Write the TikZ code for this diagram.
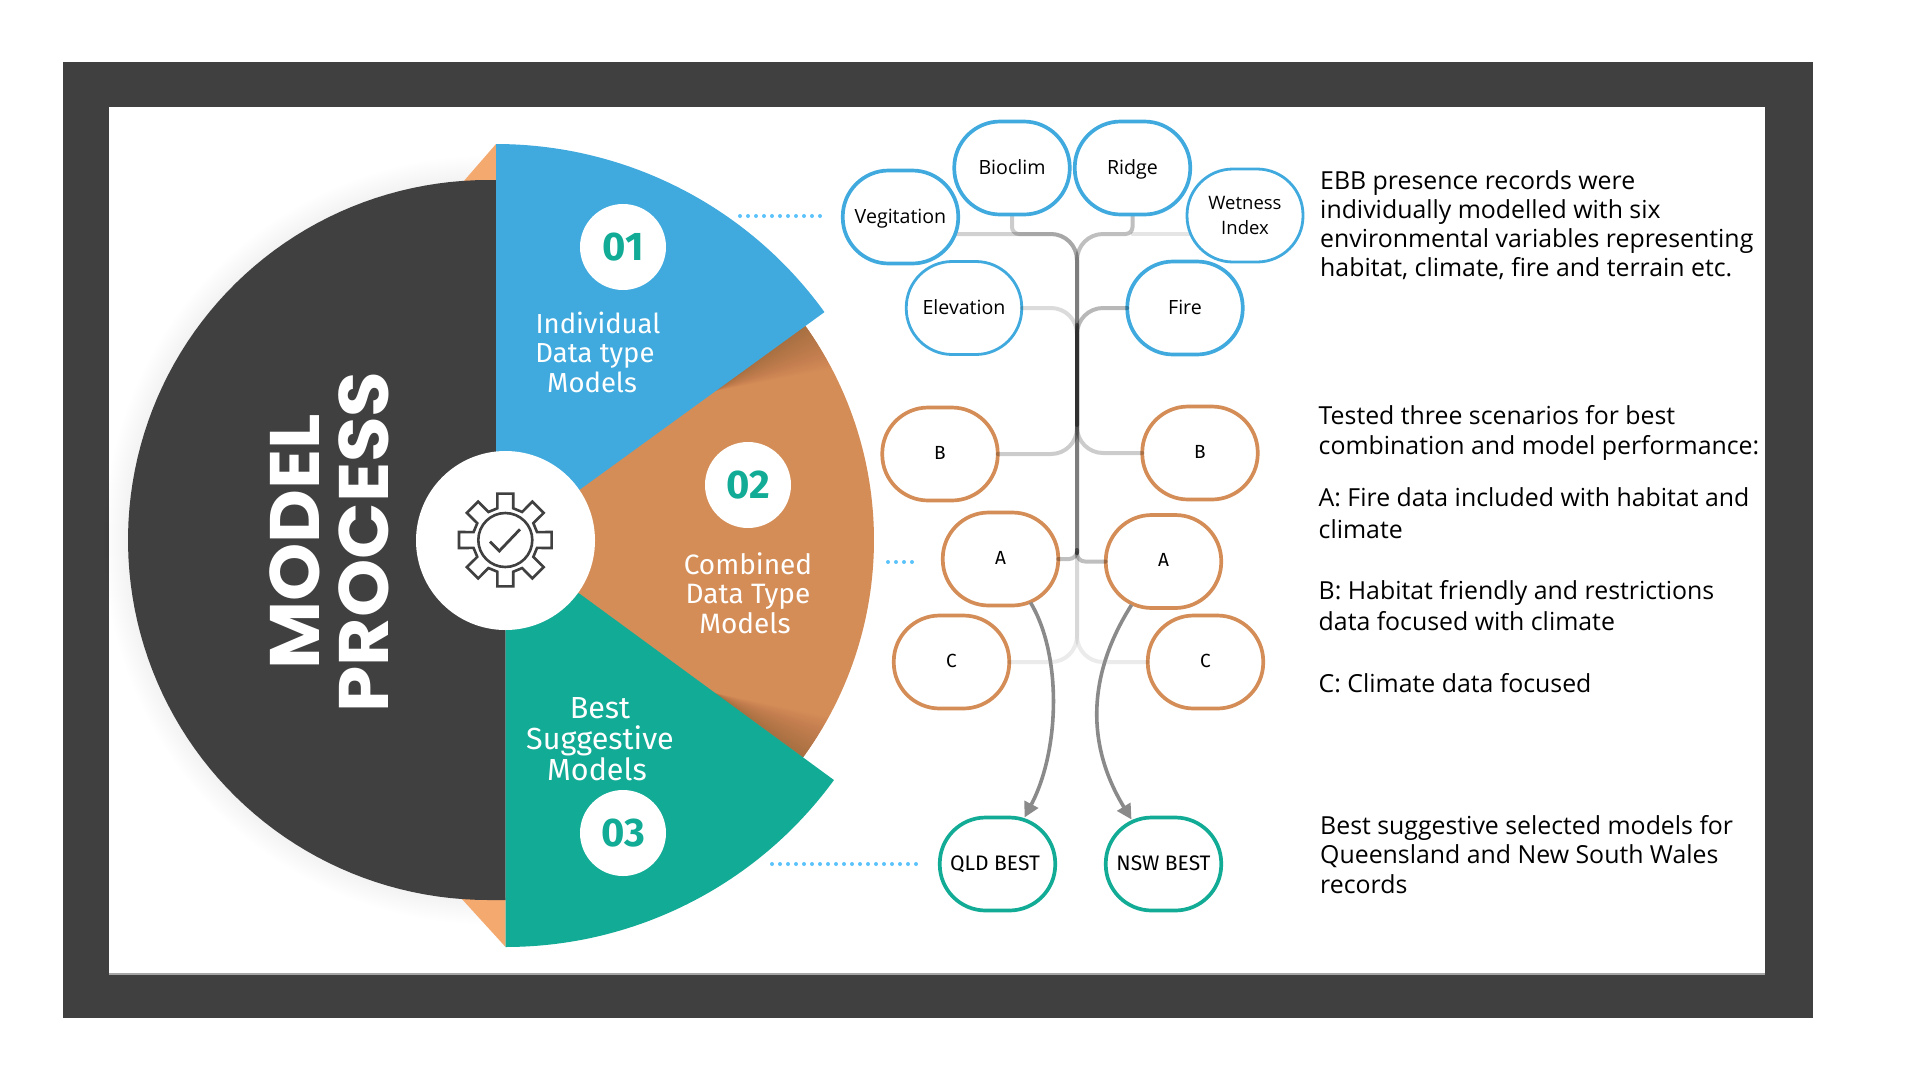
\documentclass[tikz,border=0pt]{standalone}
\usepackage{fontspec}
\usetikzlibrary{calc,arrows.meta}
\setmainfont{Open Sans}
\newfontfamily\plexlike{Fira Sans}
\newfontfamily\headfont[FakeStretch=1.06]{Poppins}
\definecolor{darkfr}{HTML}{404040}
\definecolor{bluew}{HTML}{40AADE}
\definecolor{orangew}{HTML}{D48D57}
\definecolor{tealw}{HTML}{12AB96}
\definecolor{tipc}{HTML}{F4A96F}
\definecolor{dotc}{HTML}{5CC3FA}
\definecolor{arrowc}{HTML}{8A8A8A}
\tikzset{
 pill/.style={draw,fill=white,line width=3.7pt,rounded corners=46pt,minimum width=115.5pt,minimum height=93pt,inner sep=0pt,outer sep=0pt,align=center,text=black,font=\fontsize{19.6}{25}\selectfont},
 oneline/.style={text height=14pt,text depth=4pt},
 onelinelow/.style={text height=15pt,text depth=2pt},
 bluep/.style={pill,draw=bluew},
 orangep/.style={pill,oneline,draw=orangew,font=\plexlike\fontsize{19}{25}\selectfont},
 tealp/.style={pill,onelinelow,draw=tealw,font=\plexlike\fontsize{21}{25}\selectfont},
 numc/.style={circle,fill=white,minimum size=86pt,inner sep=0pt,text=tealw,font=\plexlike\bfseries\fontsize{40}{42}\selectfont},
 wlabel/.style={align=center,text=white,inner sep=0pt,font=\plexlike\fontsize{27.5}{29.5}\selectfont},
 body/.style={anchor=west,align=left,inner sep=0pt,text=black,font=\fontsize{24.85}{29.2}\selectfont},
 link/.style={line width=4pt,black,line cap=round},
 dotline/.style={dotc,line width=4pt,line cap=round,dash pattern=on 0pt off 8pt},
 arrowline/.style={arrowc,line width=3.6pt,-{Triangle[length=15pt,width=15pt]}},
}
\begin{document}
\begin{tikzpicture}[x=1pt,y=-1pt]
\useasboundingbox (0,0) rectangle (1920,1080);
\fill[white] (0,0) rectangle (1920,1080);
% frame
\fill[darkfr] (62.5,62) rectangle (1812.5,1018);
\fill[white] (109,106.5) rectangle (1764.5,973);
\fill[gray!70] (109,973) rectangle (1764.5,975);
% soft shadow of the dark half
\foreach \d in {2,4,...,24}{
 \fill[black,opacity=.005] (496,540) -- plot[domain=90:270,samples=60] ({488+(360+\d)*cos(\x)},{540+(360+\d)*sin(\x)}) -- cycle;
}
% orange wedge with shadow
\fill[orangew] (505,540) -- plot[domain=-37:37,samples=60] ({505+369*cos(\x)},{540+369*sin(\x)}) -- cycle;
\begin{scope}
 \clip (505,540) -- plot[domain=-37:37,samples=60] ({505+369*cos(\x)},{540+369*sin(\x)}) -- cycle;
 \foreach \w in {3,6,...,66}{
  \fill[black,opacity=.0065] (715,391) -- (830,308) -- ($(830,308)+(.59*\w,.81*\w)$) -- cycle;
  \fill[black,opacity=.0065] (715,693) -- (834,780) -- ($(834,780)+(.59*\w,-.81*\w)$) -- cycle;
 }
\end{scope}
% small tips
\fill[tipc] (463,182) -- (496,144) -- (496,182) -- cycle;
\fill[tipc] (461,898) -- (505.6,898) -- (505.6,947) -- cycle;
% dark half
\fill[darkfr] (505.6,900) -- plot[domain=90:270,samples=90] ({488+360*cos(\x)},{540+360*sin(\x)}) -- (496,180) -- (496,540) -- (505.6,540) -- cycle;
% blue wedge
\fill[bluew] (496,144) -- plot[domain=-90:-35.8,samples=60] ({496+405*cos(\x)},{549+405*sin(\x)}) -- (582,488) -- (505,540) -- (496,540) -- cycle;
% teal wedge
\fill[tealw] (505.6,947) -- plot[domain=90:36.1,samples=60] ({505.6+406.4*cos(\x)},{540.6+406.4*sin(\x)}) -- (580,594) -- (505.6,560) -- cycle;
% hub
\node[circle,fill=white,minimum size=179pt,inner sep=0pt] (hub) at (505.5,540.5) {};
% gear
\begin{scope}[shift={(505.3,540)},darkfr,line width=2.6pt,line join=miter]
 \draw (-14:32.7) \foreach \a in {0,45,...,315}{
   -- (\a-14:32.7) -- (\a-9.8:47) -- (\a+9.8:47) -- (\a+14:32.7) } -- cycle;
 \draw (0,0) circle[radius=27pt];
 \draw[line width=2.8pt] (-15.3,1.7) -- (-6,11) -- (14.7,-10.7);
\end{scope}
% title
\node[rotate=90,align=center,text=white,inner sep=0pt,font=\headfont\bfseries\fontsize{70}{69}\selectfont] (title) at (329,542) {MODEL\\PROCESS};
% numbers and wedge labels
\node[numc] (n1) at (623,247) {01};
\node[numc] (n2) at (748,485) {02};
\node[numc] (n3) at (623,833) {03};
\node[wlabel] (l1) at (595,352) {Individual\hspace*{-6pt}\\Data type\\Models\hspace*{6pt}};
\node[wlabel,font=\plexlike\fontsize{28}{29.3}\selectfont] (l2) at (748,593) {Combined\\Data Type\\Models\hspace*{6pt}};
\node[wlabel,font=\plexlike\fontsize{30.5}{31}\selectfont] (l3) at (600,739) {Best\\Suggestive\\Models\hspace*{6pt}};
% junction coordinates on the trunk
\coordinate (tA) at (1077,553);
\coordinate (tB) at (1077,425);
\coordinate (tC) at (1077,325);
\coordinate (tD) at (1077,550);
\coordinate (vb) at (900.5,234);
\coordinate (bb) at (1012,234);
\coordinate (rb) at (1132.5,234);
\coordinate (wb) at (1190,234);
\coordinate (jt) at (1077,234);
% links behind the nodes
\draw[link,opacity=.18,rounded corners=26pt] (vb) -- (jt) -- (tA);
\draw[link,opacity=.2] (bb |- 0,216) [rounded corners=7pt] -- (bb) [rounded corners=26pt] -- (jt) -- (tA);
\draw[link,opacity=.25] (rb |- 0,216) [rounded corners=7pt] -- (rb) [rounded corners=26pt] -- (jt) -- (tA);
\draw[link,opacity=.1] (wb) -- (rb);
\node[bluep,onelinelow] (veg) at (900.5,217) {Vegitation};
\node[bluep,onelinelow] (bio) at (1012,168) {Bioclim};
\node[bluep,onelinelow] (rid) at (1132.5,168) {Ridge};
\node[bluep,line width=2.8pt,minimum width=116pt,font=\fontsize{18.5}{25}\selectfont] (wet) at (1245,215.5) {Wetness\\Index};
\node[bluep,onelinelow,line width=2.8pt] (ele) at (964,308) {Elevation};
\node[bluep,onelinelow] (fir) at (1185,308) {Fire};
\node[orangep] (bl) at (940,454) {B};
\node[orangep] (br) at (1200,453) {B};
\node[orangep] (al) at (1000.5,559) {A};
\node[orangep] (ar) at (1163.5,561.5) {A};
\node[orangep] (cl) at (951.5,662) {C};
\node[orangep] (cr) at (1205.5,662) {C};
\node[tealp] (qld) at (997.5,864) {QLD BEST\hspace*{5pt}};
\node[tealp] (nsw) at (1163.5,864) {NSW BEST};
\draw[link,opacity=.14,rounded corners=26pt] (ele.east) -| (tB);
\draw[link,opacity=.28,rounded corners=26pt] (fir.west) -| (tB);
\draw[link,opacity=.2,rounded corners=26pt] (bl.east) -| (tC);
\draw[link,opacity=.2,rounded corners=26pt] (br.west) -| (tC);
\draw[link,opacity=.25,rounded corners=8pt] (al.east) -| (tD);
\draw[link,opacity=.25,rounded corners=8pt] (ar.west) -| (tD);
\draw[link,opacity=.08,rounded corners=26pt] (cl.east) -| (tA);
\draw[link,opacity=.08,rounded corners=26pt] (cr.west) -| (tA);
% arrows
\draw[arrowline] ($(al.south)+(30,-3)$) .. controls (1062,655) and (1060,750) .. ($(qld.north)+(27,0)$);
\draw[arrowline] ($(ar.south)+(-32,-3)$) .. controls (1087,675) and (1086,745) .. ($(nsw.north)+(-32,2)$);
% dotted leaders
\coordinate (d1a) at (740,216);
\coordinate (d2a) at (888,562);
\coordinate (d3a) at (772,864);
\coordinate (d1b) at (822,216);
\coordinate (d2b) at (914,562);
\coordinate (d3b) at (917,864);
\draw[dotline] (d1a) -- (d1b);
\draw[dotline] (d2a) -- (d2b);
\draw[dotline] (d3a) -- (d3b);
% text blocks
\node[body] (t1) at (1320,225) {EBB presence records were\\individually modelled with six\\environmental variables representing\\habitat, climate, fire and terrain etc.};
\node[body] (t2) at (1318.5,433) {Tested three scenarios for best\\combination and model performance:};
\node[body,font=\fontsize{24.85}{31.5}\selectfont] (t3) at (1318.5,513) {A: Fire data included with habitat and\\climate};
\node[body,font=\fontsize{24.85}{31}\selectfont] (t4) at (1318.5,605.5) {B: Habitat friendly and restrictions\\data focused with climate};
\node[body] (t5) at (1318.5,683) {C: Climate data focused};
\node[body] (t6) at (1320,854.5) {Best suggestive selected models for\\Queensland and New South Wales\\records};
\end{tikzpicture}
\end{document}
